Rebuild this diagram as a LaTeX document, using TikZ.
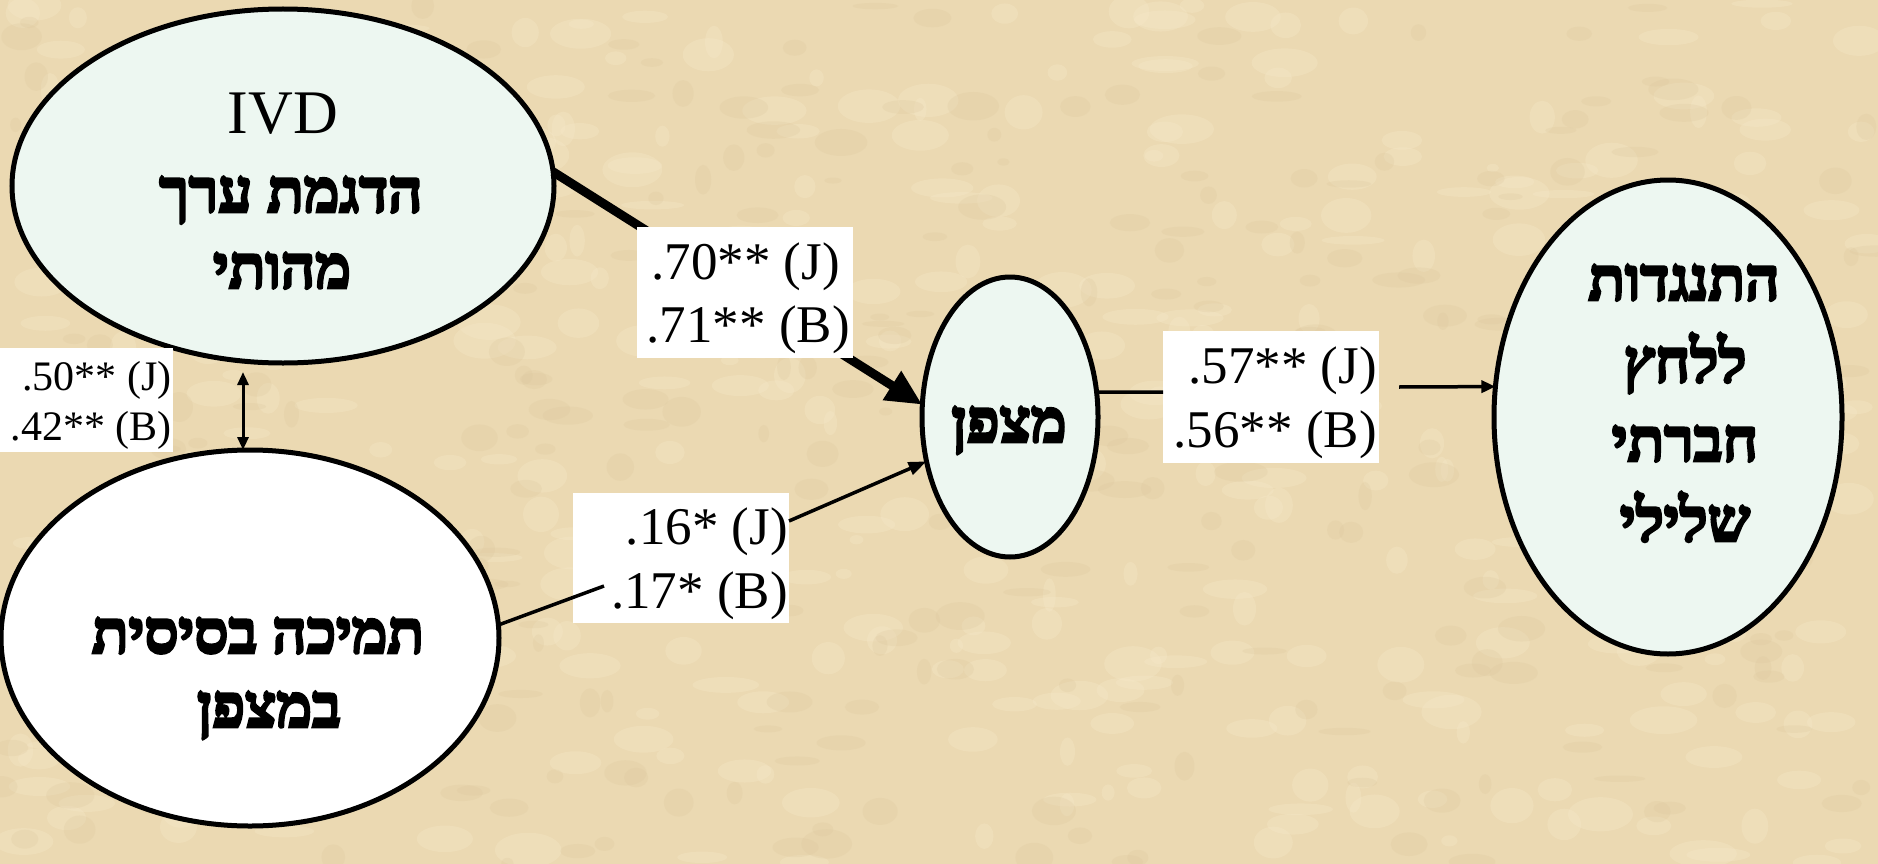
\documentclass[tikz,border=0pt]{standalone}
\usepackage{fontspec}
\setmainfont{Liberation Serif}
\newfontfamily\heb[Script=Hebrew,FakeBold=4.5]{Liberation Serif}
\TeXXeTstate=1
\usetikzlibrary{arrows.meta,shapes.geometric}
\definecolor{parch}{RGB}{235,217,178}
\definecolor{parchlight}{RGB}{247,234,203}
\definecolor{parchdark}{RGB}{218,197,155}
\definecolor{mint}{RGB}{237,247,241}
\begin{document}
\begin{tikzpicture}[x=1pt,y=-1pt,
  ell/.style={ellipse, draw=black, line width=5pt, inner sep=0pt, outer sep=0pt},
  htxt/.style={font=\heb\bfseries\fontsize{60}{72}\selectfont, anchor=base, inner sep=0pt},
  ltxt/.style={font=\fontsize{53}{62}\selectfont, anchor=base east, inner sep=0pt},
  stxt/.style={font=\fontsize{42}{50}\selectfont, anchor=base east, inner sep=0pt},
  lbox/.style={fill=white, draw=none, inner sep=0pt, outer sep=0pt},
  conn/.style={draw=black, line width=3.5pt},
]
\useasboundingbox (0,0) rectangle (1878,864);
\fill[parch] (0,0) rectangle (1878,864);
\pgfmathsetseed{11}
\foreach \i in {1,...,420}{
  \fill[parchlight, opacity=0.3] ({rnd*1878},{rnd*864}) ellipse ({6+rnd*28} and {4+rnd*14});
}
\foreach \i in {1,...,300}{
  \fill[parchdark, opacity=0.22] ({rnd*1878},{rnd*864}) ellipse ({5+rnd*22} and {3+rnd*12});
}

% ellipses
\node[ell, fill=mint, minimum width=542pt, minimum height=354pt] (E1) at (283,186) {};
\node[ell, fill=white, minimum width=498pt, minimum height=376pt] (E2) at (250,638) {};
\node[ell, fill=mint, minimum width=176pt, minimum height=280pt] (E3) at (1010,417) {};
\node[ell, fill=mint, minimum width=348pt, minimum height=474pt] (E4) at (1668,417) {};

% label boxes B, C, D
\node[lbox, minimum width=216pt, minimum height=130pt] (B) at (681,558) {};
\node[lbox, minimum width=216pt, minimum height=132pt] (C) at (1271,397) {};
\node[lbox, minimum width=173pt, minimum height=104pt] (D) at (86.5,400) {};

% connectors
\draw[conn, line width=9pt, -{Triangle[length=36pt,width=32pt]}] (E1.3) -- (E3.172);
\draw[conn, line width=3pt, {Triangle[length=13pt,width=11pt]}-{Triangle[length=13pt,width=11pt]}]
  ([xshift=-40pt,yshift=-9pt]E1.south) -- ([xshift=-7pt]E2.north);
\draw[conn, -{Triangle[length=18pt,width=13pt]}] ([yshift=37pt]B.east) -- (E3.208);
\draw[conn] (E3.16) -- ([yshift=5pt]C.west);
\draw[conn, -{Triangle[length=14pt,width=12pt]}] ([xshift=20pt,yshift=10pt]C.east) -- (E4.170);

% box A over thick line
\node[lbox, minimum width=216pt, minimum height=131pt] (A) at (745,292.5) {};

% segment entering box B
\coordinate (b1) at (604,586);
\draw[conn] (E2.3) -- (b1);

% box texts
\node[ltxt] (A1) at (840,279) {.70** (J)};
\node[ltxt] (A2) at (850,342) {.71** (B)};
\node[ltxt] (B1) at (788,544) {.16* (J)};
\node[ltxt] (B2) at (788,608) {.17* (B)};
\node[ltxt] (C1) at (1377,383) {.57** (J)};
\node[ltxt] (C2) at (1377,447) {.56** (B)};
\node[stxt] (D1) at (172,390) {.50** (J)};
\node[stxt] (D2) at (172,440) {.42** (B)};

% ellipse texts
\node[anchor=base, inner sep=0pt, font=\fontsize{62}{74}\selectfont] (T1a) at (283,134) {IVD};
\node[htxt] (T1b) at (291,212) {\beginR הדגמת ערך\endR};
\node[htxt] (T1c) at (282,288) {\beginR מהותי\endR};
\node[htxt] (T2a) at (258,653) {\beginR תמיכה בסיסית\endR};
\node[htxt] (T2b) at (269,727) {\beginR במצפן\endR};
\node[htxt] (T3a) at (1009,442) {\beginR מצפן\endR};
\node[htxt] (T4a) at (1684,300) {\beginR התנגדות\endR};
\node[htxt] (T4b) at (1685,382) {\beginR ללחץ\endR};
\node[htxt] (T4c) at (1685,461) {\beginR חברתי\endR};
\node[htxt] (T4d) at (1685,541) {\beginR שלילי\endR};
\end{tikzpicture}
\end{document}
